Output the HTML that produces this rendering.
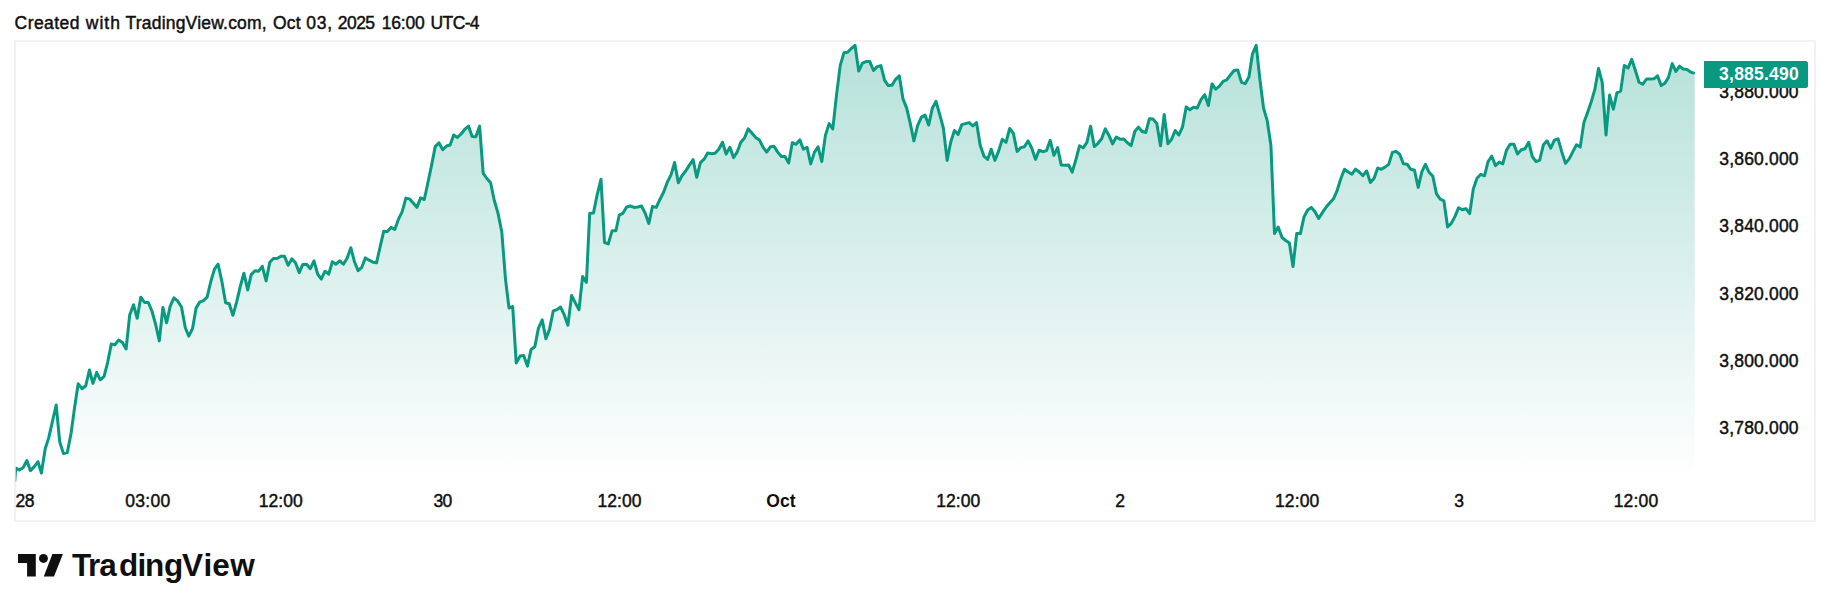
<!DOCTYPE html>
<html lang="en"><head><meta charset="utf-8"><title>TradingView chart snapshot</title>
<style>
html,body{margin:0;padding:0;background:#fff;}
body{width:1830px;height:611px;overflow:hidden;position:relative;font-family:"Liberation Sans", sans-serif;color:#0f0f0f;}
.hdr{position:absolute;left:15px;top:11px;font-size:17.5px;line-height:22px;white-space:nowrap;letter-spacing:0;}
svg{position:absolute;left:0;top:0;}
svg text{font-family:"Liberation Sans", sans-serif;}
.pl{font-size:17.4px;fill:#0f0f0f;}
.tl{font-size:17.4px;fill:#0f0f0f;text-anchor:middle;}
.logo{font-size:31.5px;font-weight:700;fill:#0f0f0f;}
</style></head><body>
<svg width="1830" height="611" viewBox="0 0 1830 611">
<defs>
<linearGradient id="g" x1="0" y1="41" x2="0" y2="482" gradientUnits="userSpaceOnUse">
<stop offset="0" stop-color="#089981" stop-opacity="0.30"/>
<stop offset="1" stop-color="#089981" stop-opacity="0"/>
</linearGradient>
<clipPath id="c"><rect x="15.7" y="41" width="1685" height="441"/></clipPath>
</defs>
<rect x="15" y="41" width="1800" height="480" fill="none" stroke="#f2f2f2" stroke-width="2"/>
<g clip-path="url(#c)">
<path d="M12.0,520.0 L15.7,468.0 L19.3,469.9 L23.1,467.8 L26.9,460.5 L30.4,470.7 L34.5,466.4 L38.0,461.7 L41.4,473.1 L45.2,448.7 L48.7,437.9 L52.5,421.1 L56.2,405.0 L59.7,441.8 L63.5,453.6 L67.3,452.6 L71.1,433.0 L74.6,407.4 L78.2,383.8 L82.0,388.7 L85.8,385.7 L89.4,370.0 L92.9,383.4 L96.7,372.4 L100.3,379.8 L104.1,376.3 L107.7,362.1 L111.3,344.0 L114.8,344.8 L118.6,340.1 L122.4,342.5 L126.1,349.0 L129.7,314.9 L133.5,304.7 L137.2,318.3 L140.8,297.2 L144.6,302.5 L148.3,302.5 L151.9,311.0 L155.5,323.8 L159.3,340.9 L162.9,307.4 L166.6,322.8 L170.2,306.1 L173.9,297.8 L177.7,301.1 L181.5,307.0 L185.3,327.7 L188.8,336.2 L192.5,328.7 L196.1,308.0 L199.7,302.1 L203.4,300.6 L207.1,297.2 L210.8,281.5 L214.5,269.1 L218.1,264.2 L221.9,281.5 L225.6,302.7 L229.2,303.7 L232.9,315.3 L236.6,302.1 L240.3,286.4 L243.9,273.2 L247.7,289.9 L251.2,274.6 L255.0,270.7 L258.6,271.2 L262.3,266.3 L266.1,280.9 L269.8,262.2 L273.4,258.5 L277.1,258.5 L280.8,256.3 L284.5,256.3 L288.1,265.3 L291.8,258.9 L295.5,262.8 L299.2,272.6 L302.8,264.4 L306.6,264.2 L310.3,268.7 L314.0,260.8 L317.6,274.0 L321.3,279.1 L325.0,271.2 L328.7,274.2 L332.3,261.8 L336.0,264.2 L339.7,260.8 L343.4,264.2 L347.1,258.3 L350.8,247.7 L354.5,261.8 L358.1,270.7 L361.8,267.3 L365.4,257.9 L369.1,260.2 L372.9,262.2 L376.5,262.8 L380.4,245.6 L383.7,231.3 L387.4,231.5 L391.0,227.4 L394.8,229.4 L398.5,219.2 L402.2,211.7 L405.9,198.1 L409.6,198.9 L413.2,203.0 L416.9,207.4 L420.6,197.9 L424.3,199.5 L427.9,182.8 L431.6,165.1 L435.3,146.4 L439.0,142.9 L442.8,149.7 L446.5,146.0 L450.1,145.0 L453.7,135.0 L457.4,137.5 L461.1,134.0 L464.8,129.3 L468.5,126.1 L472.1,136.6 L475.9,136.8 L479.6,126.1 L483.2,173.3 L486.9,178.5 L490.6,182.8 L494.3,200.5 L498.0,213.3 L501.8,232.0 L505.5,279.3 L509.0,308.1 L512.7,306.5 L516.2,362.9 L520.1,356.0 L523.7,355.6 L527.4,366.1 L531.1,349.4 L534.8,346.8 L538.4,328.4 L542.2,319.9 L545.9,338.7 L549.5,329.4 L553.2,311.0 L556.9,309.7 L560.6,307.1 L564.2,314.7 L567.9,325.2 L571.6,295.4 L575.3,302.9 L579.0,309.7 L582.6,276.6 L586.4,282.3 L589.7,213.3 L593.5,212.9 L597.2,194.6 L601.0,179.2 L604.5,242.5 L608.3,243.9 L612.1,230.7 L615.9,230.7 L619.2,215.2 L622.9,213.3 L626.6,207.0 L630.3,206.0 L634.0,207.4 L637.7,207.0 L641.5,206.0 L645.2,213.3 L648.8,223.5 L652.5,206.4 L656.2,207.4 L659.9,199.5 L663.6,192.2 L667.3,182.2 L671.0,174.9 L674.6,162.5 L678.3,182.8 L682.1,175.5 L685.7,171.0 L689.4,165.1 L693.1,159.6 L696.7,177.3 L700.4,162.7 L704.1,159.2 L707.7,152.9 L711.4,153.7 L715.1,153.3 L718.8,149.3 L722.5,142.3 L726.1,154.1 L729.9,147.2 L733.5,157.6 L737.2,152.1 L740.8,142.3 L744.5,138.0 L748.2,128.9 L751.9,133.0 L755.6,137.4 L759.4,139.9 L763.0,147.2 L766.7,152.1 L770.4,146.8 L774.0,146.2 L777.7,152.1 L781.4,156.5 L785.0,156.5 L788.7,163.0 L792.3,142.7 L796.0,144.3 L799.8,139.9 L803.4,149.2 L807.1,147.2 L810.7,163.9 L814.5,152.1 L818.1,146.8 L821.8,161.6 L825.4,135.4 L829.1,123.6 L832.8,128.9 L836.5,95.1 L840.2,65.6 L843.9,52.8 L847.6,52.2 L851.3,48.5 L855.0,45.3 L858.7,71.1 L862.4,63.2 L866.1,61.6 L869.8,61.6 L873.5,70.5 L877.2,66.6 L880.9,65.6 L884.6,80.3 L888.3,85.6 L892.0,85.2 L895.6,79.3 L899.3,75.8 L902.9,98.6 L906.6,107.9 L910.3,123.6 L913.9,140.9 L917.6,125.6 L921.4,117.1 L925.0,115.1 L928.7,125.0 L932.4,107.9 L936.0,101.4 L939.7,114.4 L943.4,128.1 L947.1,160.4 L950.7,142.3 L954.4,130.5 L958.1,134.4 L961.8,124.6 L965.5,123.6 L969.2,122.6 L972.9,126.0 L976.5,122.6 L980.2,145.2 L983.9,156.1 L987.6,159.4 L991.2,149.2 L994.9,160.4 L998.6,151.1 L1002.3,139.3 L1006.0,142.3 L1009.7,128.5 L1013.4,133.4 L1017.1,151.5 L1020.8,147.6 L1024.4,146.8 L1028.1,140.9 L1031.8,148.2 L1035.5,159.4 L1039.1,150.2 L1042.8,151.7 L1046.6,150.6 L1050.2,140.3 L1053.9,155.3 L1057.6,147.6 L1061.2,164.9 L1064.9,165.3 L1068.6,164.9 L1072.2,172.2 L1075.8,160.0 L1079.5,145.8 L1083.2,147.8 L1086.9,142.3 L1090.6,126.2 L1094.3,146.6 L1098.0,143.3 L1101.6,138.8 L1105.3,128.9 L1109.0,135.4 L1112.6,143.9 L1116.3,137.0 L1120.1,139.3 L1123.8,139.0 L1127.4,142.7 L1131.1,145.6 L1134.8,131.5 L1138.4,127.1 L1142.1,131.5 L1145.8,132.5 L1149.4,118.7 L1153.1,119.1 L1156.8,123.6 L1160.5,145.8 L1164.2,114.4 L1167.9,143.7 L1171.6,139.3 L1175.2,130.5 L1178.9,135.0 L1182.6,126.6 L1186.2,106.9 L1189.9,109.8 L1193.6,107.3 L1197.3,107.9 L1201.0,99.6 L1204.7,94.7 L1208.4,105.5 L1212.0,83.9 L1215.7,89.2 L1219.4,86.2 L1223.1,81.3 L1226.7,79.9 L1230.4,75.0 L1234.1,70.5 L1237.7,69.9 L1241.5,82.3 L1245.2,83.7 L1248.9,77.0 L1252.5,53.8 L1256.2,45.3 L1259.9,79.3 L1263.5,107.9 L1267.2,120.7 L1270.9,145.2 L1274.5,233.6 L1278.2,227.1 L1282.0,237.5 L1285.7,240.5 L1289.4,243.0 L1293.0,266.5 L1296.7,233.6 L1300.4,233.6 L1304.0,216.9 L1307.7,210.0 L1311.4,207.4 L1315.1,212.0 L1318.7,218.5 L1322.4,212.6 L1326.2,207.0 L1329.9,202.7 L1333.5,198.8 L1337.2,190.3 L1340.9,178.5 L1344.5,169.3 L1348.2,172.0 L1351.9,174.2 L1355.6,169.1 L1359.2,172.0 L1362.9,175.6 L1366.7,171.0 L1370.4,182.5 L1374.0,178.5 L1377.7,168.1 L1381.4,169.3 L1385.0,167.1 L1388.7,164.4 L1392.4,152.4 L1396.0,151.4 L1399.7,154.3 L1403.4,163.8 L1407.1,164.2 L1410.8,169.3 L1414.5,170.3 L1418.2,187.4 L1421.9,171.6 L1425.4,164.4 L1429.1,172.3 L1432.8,176.2 L1436.5,193.9 L1440.2,199.2 L1443.9,200.8 L1447.6,227.0 L1451.3,223.4 L1454.9,216.6 L1458.6,207.7 L1462.3,209.7 L1466.0,208.7 L1469.7,213.6 L1473.3,189.0 L1477.0,178.2 L1480.8,174.3 L1484.5,175.8 L1488.1,161.5 L1491.8,156.2 L1495.5,165.8 L1499.2,162.1 L1502.8,163.8 L1506.5,150.1 L1510.2,144.2 L1513.9,144.2 L1517.5,154.0 L1521.3,149.7 L1525.0,148.7 L1528.7,142.2 L1532.3,156.6 L1536.0,161.5 L1539.7,160.1 L1543.4,144.8 L1547.0,140.8 L1550.7,148.1 L1554.4,140.2 L1558.1,138.9 L1561.7,151.6 L1565.5,163.4 L1569.2,158.9 L1572.9,151.6 L1576.5,144.8 L1580.2,147.1 L1583.9,122.6 L1587.5,112.8 L1591.2,102.0 L1594.9,89.2 L1598.5,68.5 L1602.2,82.3 L1606.0,135.0 L1609.6,95.1 L1613.3,109.2 L1617.0,92.7 L1620.7,91.1 L1624.3,65.6 L1628.0,68.1 L1631.7,59.3 L1635.4,70.5 L1639.0,82.3 L1642.7,84.3 L1646.5,79.0 L1650.2,79.0 L1653.8,78.8 L1657.5,75.8 L1661.2,85.6 L1664.9,83.3 L1668.5,77.4 L1672.2,63.6 L1675.9,71.5 L1679.6,66.2 L1683.2,69.1 L1687.0,69.5 L1690.7,72.1 L1694.7,73.4 L1694.7,482 L12.0,482 Z" fill="url(#g)"/>
<polyline points="12.0,520.0 15.7,468.0 19.3,469.9 23.1,467.8 26.9,460.5 30.4,470.7 34.5,466.4 38.0,461.7 41.4,473.1 45.2,448.7 48.7,437.9 52.5,421.1 56.2,405.0 59.7,441.8 63.5,453.6 67.3,452.6 71.1,433.0 74.6,407.4 78.2,383.8 82.0,388.7 85.8,385.7 89.4,370.0 92.9,383.4 96.7,372.4 100.3,379.8 104.1,376.3 107.7,362.1 111.3,344.0 114.8,344.8 118.6,340.1 122.4,342.5 126.1,349.0 129.7,314.9 133.5,304.7 137.2,318.3 140.8,297.2 144.6,302.5 148.3,302.5 151.9,311.0 155.5,323.8 159.3,340.9 162.9,307.4 166.6,322.8 170.2,306.1 173.9,297.8 177.7,301.1 181.5,307.0 185.3,327.7 188.8,336.2 192.5,328.7 196.1,308.0 199.7,302.1 203.4,300.6 207.1,297.2 210.8,281.5 214.5,269.1 218.1,264.2 221.9,281.5 225.6,302.7 229.2,303.7 232.9,315.3 236.6,302.1 240.3,286.4 243.9,273.2 247.7,289.9 251.2,274.6 255.0,270.7 258.6,271.2 262.3,266.3 266.1,280.9 269.8,262.2 273.4,258.5 277.1,258.5 280.8,256.3 284.5,256.3 288.1,265.3 291.8,258.9 295.5,262.8 299.2,272.6 302.8,264.4 306.6,264.2 310.3,268.7 314.0,260.8 317.6,274.0 321.3,279.1 325.0,271.2 328.7,274.2 332.3,261.8 336.0,264.2 339.7,260.8 343.4,264.2 347.1,258.3 350.8,247.7 354.5,261.8 358.1,270.7 361.8,267.3 365.4,257.9 369.1,260.2 372.9,262.2 376.5,262.8 380.4,245.6 383.7,231.3 387.4,231.5 391.0,227.4 394.8,229.4 398.5,219.2 402.2,211.7 405.9,198.1 409.6,198.9 413.2,203.0 416.9,207.4 420.6,197.9 424.3,199.5 427.9,182.8 431.6,165.1 435.3,146.4 439.0,142.9 442.8,149.7 446.5,146.0 450.1,145.0 453.7,135.0 457.4,137.5 461.1,134.0 464.8,129.3 468.5,126.1 472.1,136.6 475.9,136.8 479.6,126.1 483.2,173.3 486.9,178.5 490.6,182.8 494.3,200.5 498.0,213.3 501.8,232.0 505.5,279.3 509.0,308.1 512.7,306.5 516.2,362.9 520.1,356.0 523.7,355.6 527.4,366.1 531.1,349.4 534.8,346.8 538.4,328.4 542.2,319.9 545.9,338.7 549.5,329.4 553.2,311.0 556.9,309.7 560.6,307.1 564.2,314.7 567.9,325.2 571.6,295.4 575.3,302.9 579.0,309.7 582.6,276.6 586.4,282.3 589.7,213.3 593.5,212.9 597.2,194.6 601.0,179.2 604.5,242.5 608.3,243.9 612.1,230.7 615.9,230.7 619.2,215.2 622.9,213.3 626.6,207.0 630.3,206.0 634.0,207.4 637.7,207.0 641.5,206.0 645.2,213.3 648.8,223.5 652.5,206.4 656.2,207.4 659.9,199.5 663.6,192.2 667.3,182.2 671.0,174.9 674.6,162.5 678.3,182.8 682.1,175.5 685.7,171.0 689.4,165.1 693.1,159.6 696.7,177.3 700.4,162.7 704.1,159.2 707.7,152.9 711.4,153.7 715.1,153.3 718.8,149.3 722.5,142.3 726.1,154.1 729.9,147.2 733.5,157.6 737.2,152.1 740.8,142.3 744.5,138.0 748.2,128.9 751.9,133.0 755.6,137.4 759.4,139.9 763.0,147.2 766.7,152.1 770.4,146.8 774.0,146.2 777.7,152.1 781.4,156.5 785.0,156.5 788.7,163.0 792.3,142.7 796.0,144.3 799.8,139.9 803.4,149.2 807.1,147.2 810.7,163.9 814.5,152.1 818.1,146.8 821.8,161.6 825.4,135.4 829.1,123.6 832.8,128.9 836.5,95.1 840.2,65.6 843.9,52.8 847.6,52.2 851.3,48.5 855.0,45.3 858.7,71.1 862.4,63.2 866.1,61.6 869.8,61.6 873.5,70.5 877.2,66.6 880.9,65.6 884.6,80.3 888.3,85.6 892.0,85.2 895.6,79.3 899.3,75.8 902.9,98.6 906.6,107.9 910.3,123.6 913.9,140.9 917.6,125.6 921.4,117.1 925.0,115.1 928.7,125.0 932.4,107.9 936.0,101.4 939.7,114.4 943.4,128.1 947.1,160.4 950.7,142.3 954.4,130.5 958.1,134.4 961.8,124.6 965.5,123.6 969.2,122.6 972.9,126.0 976.5,122.6 980.2,145.2 983.9,156.1 987.6,159.4 991.2,149.2 994.9,160.4 998.6,151.1 1002.3,139.3 1006.0,142.3 1009.7,128.5 1013.4,133.4 1017.1,151.5 1020.8,147.6 1024.4,146.8 1028.1,140.9 1031.8,148.2 1035.5,159.4 1039.1,150.2 1042.8,151.7 1046.6,150.6 1050.2,140.3 1053.9,155.3 1057.6,147.6 1061.2,164.9 1064.9,165.3 1068.6,164.9 1072.2,172.2 1075.8,160.0 1079.5,145.8 1083.2,147.8 1086.9,142.3 1090.6,126.2 1094.3,146.6 1098.0,143.3 1101.6,138.8 1105.3,128.9 1109.0,135.4 1112.6,143.9 1116.3,137.0 1120.1,139.3 1123.8,139.0 1127.4,142.7 1131.1,145.6 1134.8,131.5 1138.4,127.1 1142.1,131.5 1145.8,132.5 1149.4,118.7 1153.1,119.1 1156.8,123.6 1160.5,145.8 1164.2,114.4 1167.9,143.7 1171.6,139.3 1175.2,130.5 1178.9,135.0 1182.6,126.6 1186.2,106.9 1189.9,109.8 1193.6,107.3 1197.3,107.9 1201.0,99.6 1204.7,94.7 1208.4,105.5 1212.0,83.9 1215.7,89.2 1219.4,86.2 1223.1,81.3 1226.7,79.9 1230.4,75.0 1234.1,70.5 1237.7,69.9 1241.5,82.3 1245.2,83.7 1248.9,77.0 1252.5,53.8 1256.2,45.3 1259.9,79.3 1263.5,107.9 1267.2,120.7 1270.9,145.2 1274.5,233.6 1278.2,227.1 1282.0,237.5 1285.7,240.5 1289.4,243.0 1293.0,266.5 1296.7,233.6 1300.4,233.6 1304.0,216.9 1307.7,210.0 1311.4,207.4 1315.1,212.0 1318.7,218.5 1322.4,212.6 1326.2,207.0 1329.9,202.7 1333.5,198.8 1337.2,190.3 1340.9,178.5 1344.5,169.3 1348.2,172.0 1351.9,174.2 1355.6,169.1 1359.2,172.0 1362.9,175.6 1366.7,171.0 1370.4,182.5 1374.0,178.5 1377.7,168.1 1381.4,169.3 1385.0,167.1 1388.7,164.4 1392.4,152.4 1396.0,151.4 1399.7,154.3 1403.4,163.8 1407.1,164.2 1410.8,169.3 1414.5,170.3 1418.2,187.4 1421.9,171.6 1425.4,164.4 1429.1,172.3 1432.8,176.2 1436.5,193.9 1440.2,199.2 1443.9,200.8 1447.6,227.0 1451.3,223.4 1454.9,216.6 1458.6,207.7 1462.3,209.7 1466.0,208.7 1469.7,213.6 1473.3,189.0 1477.0,178.2 1480.8,174.3 1484.5,175.8 1488.1,161.5 1491.8,156.2 1495.5,165.8 1499.2,162.1 1502.8,163.8 1506.5,150.1 1510.2,144.2 1513.9,144.2 1517.5,154.0 1521.3,149.7 1525.0,148.7 1528.7,142.2 1532.3,156.6 1536.0,161.5 1539.7,160.1 1543.4,144.8 1547.0,140.8 1550.7,148.1 1554.4,140.2 1558.1,138.9 1561.7,151.6 1565.5,163.4 1569.2,158.9 1572.9,151.6 1576.5,144.8 1580.2,147.1 1583.9,122.6 1587.5,112.8 1591.2,102.0 1594.9,89.2 1598.5,68.5 1602.2,82.3 1606.0,135.0 1609.6,95.1 1613.3,109.2 1617.0,92.7 1620.7,91.1 1624.3,65.6 1628.0,68.1 1631.7,59.3 1635.4,70.5 1639.0,82.3 1642.7,84.3 1646.5,79.0 1650.2,79.0 1653.8,78.8 1657.5,75.8 1661.2,85.6 1664.9,83.3 1668.5,77.4 1672.2,63.6 1675.9,71.5 1679.6,66.2 1683.2,69.1 1687.0,69.5 1690.7,72.1 1694.7,73.4" fill="none" stroke="#089981" stroke-width="3" stroke-linejoin="round" stroke-linecap="butt"/>
</g>

<text y="28.9" font-size="17.5" fill="#0f0f0f" stroke="#0f0f0f" stroke-width="0.45"><tspan x="14.58" letter-spacing="0.442">Created</tspan> <tspan x="85.75" letter-spacing="1.033">with</tspan> <tspan x="125.5" letter-spacing="0.204">TradingView.com,</tspan> <tspan x="273.02" letter-spacing="0.2">Oct</tspan> <tspan x="306.35" letter-spacing="0.725">03,</tspan> <tspan x="337.85" letter-spacing="-0.583">2025</tspan> <tspan x="381.72" letter-spacing="-0.176">16:00</tspan> <tspan x="430.6" letter-spacing="-0.637">UTC-4</tspan></text>
<text x="1719.32" y="97.80" font-size="17.5" letter-spacing="0.174" fill="#0f0f0f" stroke="#0f0f0f" stroke-width="0.45">3,880.000</text>
<text x="1719.32" y="165.05" font-size="17.5" letter-spacing="0.174" fill="#0f0f0f" stroke="#0f0f0f" stroke-width="0.45">3,860.000</text>
<text x="1719.32" y="232.30" font-size="17.5" letter-spacing="0.174" fill="#0f0f0f" stroke="#0f0f0f" stroke-width="0.45">3,840.000</text>
<text x="1719.32" y="299.55" font-size="17.5" letter-spacing="0.174" fill="#0f0f0f" stroke="#0f0f0f" stroke-width="0.45">3,820.000</text>
<text x="1719.32" y="366.80" font-size="17.5" letter-spacing="0.174" fill="#0f0f0f" stroke="#0f0f0f" stroke-width="0.45">3,800.000</text>
<text x="1719.32" y="434.05" font-size="17.5" letter-spacing="0.174" fill="#0f0f0f" stroke="#0f0f0f" stroke-width="0.45">3,780.000</text>
<path d="M1704,61H1805.5a2.5,2.5 0 0 1 2.5,2.5V85.5a2.5,2.5 0 0 1 -2.5,2.5H1704Z" fill="#089981"/>
<text x="1719.1" y="80.00" font-size="17.5" font-weight="700" letter-spacing="0.219" fill="#ffffff">3,885.490</text>
<text x="15.48" y="507.30" font-size="17.5" letter-spacing="-0.35" fill="#0f0f0f" stroke="#0f0f0f" stroke-width="0.45">28</text>
<text x="125.22" y="507.30" font-size="17.5" letter-spacing="0.326" fill="#0f0f0f" stroke="#0f0f0f" stroke-width="0.45">03:00</text>
<text x="258.67" y="507.30" font-size="17.5" letter-spacing="0.086" fill="#0f0f0f" stroke="#0f0f0f" stroke-width="0.45">12:00</text>
<text x="433.6" y="507.30" font-size="17.5" letter-spacing="-0.9" fill="#0f0f0f" stroke="#0f0f0f" stroke-width="0.45">30</text>
<text x="597.38" y="507.30" font-size="17.5" letter-spacing="0.089" fill="#0f0f0f" stroke="#0f0f0f" stroke-width="0.45">12:00</text>
<text x="766.25" y="507.30" font-size="17.5" font-weight="700" letter-spacing="0.125" fill="#0f0f0f">Oct</text>
<text x="936.22" y="507.30" font-size="17.5" letter-spacing="0.076" fill="#0f0f0f" stroke="#0f0f0f" stroke-width="0.45">12:00</text>
<text x="1115.18" y="507.30" font-size="17.5" fill="#0f0f0f" stroke="#0f0f0f" stroke-width="0.45">2</text>
<text x="1275.03" y="507.30" font-size="17.5" letter-spacing="0.099" fill="#0f0f0f" stroke="#0f0f0f" stroke-width="0.45">12:00</text>
<text x="1454.28" y="507.30" font-size="17.5" fill="#0f0f0f" stroke="#0f0f0f" stroke-width="0.45">3</text>
<text x="1613.7" y="507.30" font-size="17.5" letter-spacing="0.188" fill="#0f0f0f" stroke="#0f0f0f" stroke-width="0.45">12:00</text>
<g fill="#0f0f0f">
<path d="M18,554H35.8V576.4H27.1V562.9H18Z"/>
<circle cx="43.45" cy="558.45" r="4.45"/>
<path d="M52.4,554H62.9L54,576.4H43.8Z"/>
</g>
<text class="logo" x="71.97 87.98 99.32 118.9 137.48 144.98 164.02 181.9 203.42 212.32 230.3" y="576.3">TradingView</text>
</svg>
</body></html>
